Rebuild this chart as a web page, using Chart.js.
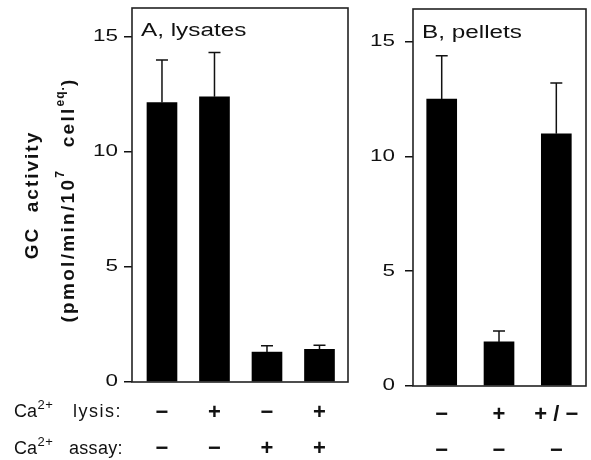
<!DOCTYPE html>
<html><head><meta charset="utf-8">
<script src="https://cdn.jsdelivr.net/npm/chart.js@4.4.1/dist/chart.umd.min.js"></script>
<style>
html,body{margin:0;padding:0;background:#fff;}
#wrap{position:relative;width:591px;height:460px;overflow:hidden;}
.cv{position:absolute;top:0;}
</style></head><body>
<div id="wrap">
<canvas id="ca" class="cv" width="360" height="460" style="left:0"></canvas>
<canvas id="cb" class="cv" width="231" height="460" style="left:360px"></canvas>
</div>
<script>
// ---- data ----
const yTicks = [0, 5, 10, 15];
const lysisA = ['−', '+', '−', '+'];
const assayA = ['−', '−', '+', '+'];
const valuesA = [12.15, 12.4, 1.3, 1.42];
const errorsA = [1.85, 1.93, 0.28, 0.18];
const lysisB = ['−', '+', '+ / −'];
const assayB = ['−', '−', '−'];
const valuesB = [12.49, 1.92, 10.98];
const errorsB = [1.89, 0.47, 2.21];
const titleA = 'A, lysates';
const titleB = 'B, pellets';
const yTitle1 = 'GC  activity';
const rowLabel1 = 'lysis:';
const rowLabel2 = 'assay:';

const FONT = "'Liberation Sans', Arial, Helvetica, sans-serif";
const INK = '#111';

function drawRotRuns(ctx, runs, centerY, baseX) {
  ctx.save();
  ctx.translate(baseX, centerY);
  ctx.rotate(-Math.PI / 2);
  ctx.textBaseline = 'alphabetic';
  ctx.textAlign = 'left';
  let total = 0;
  runs.forEach(r => { ctx.font = r.font; ctx.letterSpacing = r.ls || '0px'; r.w = ctx.measureText(r.t).width; total += r.w; });
  let xx = -total / 2;
  runs.forEach(r => { ctx.font = r.font; ctx.letterSpacing = r.ls || '0px'; ctx.fillText(r.t, xx, r.dy || 0); xx += r.w; });
  ctx.restore();
}

function drawCaLabel(ctx, x, baseY, word, wordX, ls) {
  ctx.font = `18px ${FONT}`;
  ctx.letterSpacing = '0px';
  ctx.fillText('Ca', x, baseY);
  const w = ctx.measureText('Ca').width;
  ctx.font = `13px ${FONT}`;
  ctx.letterSpacing = '0.5px';
  ctx.fillText('2+', x + w + 0.5, baseY - 8);
  ctx.font = `18px ${FONT}`;
  ctx.letterSpacing = ls;
  ctx.fillText(word, wordX, baseY);
  ctx.letterSpacing = '0px';
}

function stretchText(ctx, text, x, y, sx, align) {
  ctx.save();
  ctx.translate(x, y);
  ctx.scale(sx, 1);
  ctx.textAlign = align;
  ctx.fillText(text, 0, 0);
  ctx.restore();
}

function makeDeco(cfg) {
  return {
    id: 'deco' + cfg.title[0],
    afterDatasetsDraw(chart) {
      const { ctx, chartArea: a, scales: { x, y } } = chart;
      ctx.save();
      ctx.strokeStyle = INK;
      ctx.lineWidth = 1.5;
      cfg.values.forEach((v, i) => {
        const px = x.getPixelForValue(i);
        const y0 = y.getPixelForValue(v);
        const y1 = y.getPixelForValue(v + cfg.errors[i]);
        ctx.beginPath();
        ctx.moveTo(px, y0); ctx.lineTo(px, y1);
        ctx.moveTo(px - 6, y1); ctx.lineTo(px + 6, y1);
        ctx.stroke();
      });
      ctx.lineWidth = 1.6;
      ctx.strokeStyle = '#222';
      ctx.strokeRect(a.left, a.top, a.right - a.left, a.bottom - a.top);
      ctx.fillStyle = INK;
      // y tick labels (horizontally stretched like the reference)
      ctx.font = `16px ${FONT}`;
      ctx.textBaseline = 'middle';
      yTicks.forEach(t => {
        stretchText(ctx, String(t), a.left - cfg.yLabelGap, y.getPixelForValue(t), 1.4, 'right');
      });
      // panel title
      ctx.textBaseline = 'alphabetic';
      ctx.font = `18px ${FONT}`;
      stretchText(ctx, cfg.title, cfg.titleX, cfg.titleY, 1.35, 'left');
      if (cfg.withLabels) {
        const f = `bold 19px ${FONT}`;
        const fs = `bold 12px ${FONT}`;
        drawRotRuns(ctx, [{ t: yTitle1, font: f, ls: '2px' }], 195, 38);
        drawRotRuns(ctx, [
          { t: '(pmol/min/10', font: f, ls: '2.3px' },
          { t: '7', font: fs, ls: '1px', dy: -10 },
          { t: '   cell', font: f, ls: '2.3px' },
          { t: 'eq.', font: fs, ls: '1px', dy: -10 },
          { t: ')', font: f, ls: '2.3px' }
        ], 200, 74);
        ctx.fillStyle = INK;
        ctx.textAlign = 'left';
        drawCaLabel(ctx, 14, 417, rowLabel1, 73, '1.5px');
        drawCaLabel(ctx, 14, 454, rowLabel2, 69, '0.3px');
      }
      ctx.restore();
    }
  };
}

function panel(id, cfg) {
  return new Chart(document.getElementById(id), {
    type: 'bar',
    data: {
      datasets: [{
        data: cfg.values.map((v, i) => ({ x: i, y: v })),
        backgroundColor: '#000',
        borderWidth: 0,
        barThickness: 30
      }]
    },
    options: {
      responsive: false,
      animation: false,
      events: [],
      layout: { padding: { top: cfg.padTop, right: cfg.padRight, left: 0, bottom: 0 } },
      plugins: { legend: { display: false }, tooltip: { enabled: false } },
      scales: {
        x: {
          type: 'linear', min: cfg.xMin, max: cfg.xMax, offset: false,
          afterFit: s => { s.height = cfg.xAxisH; },
          afterBuildTicks: s => { s.ticks = cfg.values.map((v, i) => ({ value: i })); },
          grid: { display: false, drawTicks: false },
          border: { display: false },
          ticks: {
            autoSkip: false, maxRotation: 0, minRotation: 0, padding: cfg.xPad, color: INK,
            font: { family: FONT, size: 22, weight: 'bold', lineHeight: '36px' },
            callback: (val) => { const i = Math.round(val); return [cfg.lysis[i], cfg.assay[i]]; }
          }
        },
        y: {
          type: 'linear', min: 0, max: cfg.yMax,
          afterFit: s => { s.width = cfg.yAxisW; },
          afterBuildTicks: s => { s.ticks = yTicks.map(v => ({ value: v })); },
          grid: { drawOnChartArea: false, drawTicks: true, tickLength: 8, color: INK, lineWidth: 1.5 },
          border: { display: false },
          ticks: { display: false }
        }
      }
    },
    plugins: [makeDeco(cfg)]
  });
}

panel('ca', {
  values: valuesA, errors: errorsA, lysis: lysisA, assay: assayA,
  title: titleA, titleX: 141, titleY: 36, withLabels: true,
  padTop: 8, padRight: 12, yAxisW: 132, xAxisH: 78, xPad: 13, yLabelGap: 14,
  xMin: -0.571, xMax: 3.543, yMax: 16.26
});
panel('cb', {
  values: valuesB, errors: errorsB, lysis: lysisB, assay: assayB,
  title: titleB, titleX: 62, titleY: 38, withLabels: false,
  padTop: 9, padRight: 5, yAxisW: 53, xAxisH: 74, xPad: 11, yLabelGap: 18,
  xMin: -0.501, xMax: 2.518, yMax: 16.41
});
</script>
</body></html>
